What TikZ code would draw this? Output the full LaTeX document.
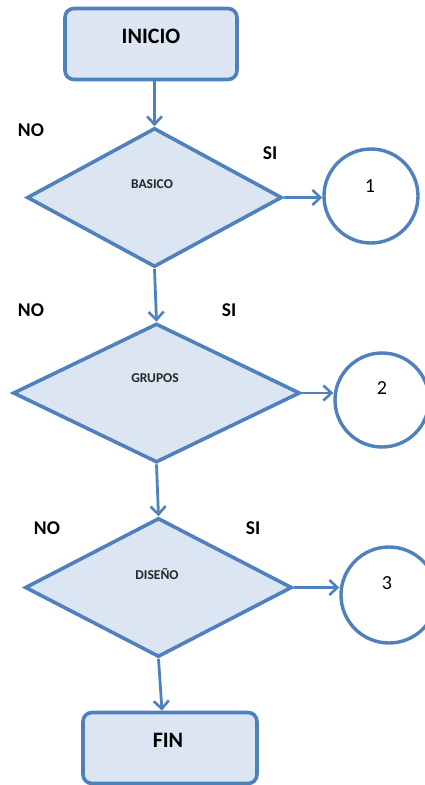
\documentclass[tikz,border=0pt]{standalone}
\usepackage{fontspec}
\setmainfont{Carlito}
\usetikzlibrary{shapes.geometric,arrows.meta,calc}
\definecolor{edgeblue}{HTML}{4F81BD}
\definecolor{fillblue}{HTML}{DCE6F2}
\begin{document}
\begin{tikzpicture}[x=1pt,y=-1pt,
  termbox/.style={draw=edgeblue,fill=fillblue,line width=3.6pt,rounded corners=9pt,
    minimum width=#1,minimum height=71pt,inner sep=0pt},
  decbox/.style={diamond,draw=edgeblue,fill=fillblue,line width=3.6pt,inner sep=0pt,
    aspect=1.9},
  conn/.style={circle,draw=edgeblue,fill=white,line width=3.4pt,minimum size=94pt,inner sep=0pt},
  flow/.style={draw=edgeblue,line width=2.8pt,-{Straight Barb[length=8pt,width=15pt,line width=2.6pt]}},
  bigtxt/.style={font=\bfseries\fontsize{22}{22}\selectfont,inner sep=0pt},
  smalltxt/.style={font=\bfseries\fontsize{13.5}{14}\selectfont,inner sep=0pt,text=black!85},
  anstxt/.style={font=\bfseries\fontsize{19.5}{19.5}\selectfont,inner sep=0pt},
  numtxt/.style={font=\fontsize{20}{20}\selectfont,inner sep=0pt}]
\useasboundingbox (0,0) rectangle (425,785);

% start and end boxes
\node[termbox=172pt] (start) at (151,44) {};
\node[bigtxt] (startlbl) at (151,36) {INICIO};
\node[termbox=174pt] (fin) at (170,748) {};
\node[bigtxt] (finlbl) at (168,740) {FIN};

% decisions
\node[decbox,minimum width=255pt,minimum height=139pt] (d1) at (154.5,197.5) {};
\node[smalltxt] (d1lbl) at (152,184) {BASICO};
\node[decbox,minimum width=287pt,minimum height=139pt] (d2) at (156.5,393) {};
\node[smalltxt] (d2lbl) at (155,378) {GRUPOS};
\node[decbox,minimum width=267pt,minimum height=139pt] (d3) at (158.5,587.5) {};
\node[smalltxt] (d3lbl) at (157,574) {DISEÑO};

% connectors
\node[conn] (c1) at (371,196) {};
\node[numtxt] (c1lbl) at (370,186) {1};
\node[conn] (c2) at (382,400) {};
\node[numtxt] (c2lbl) at (382,388) {2};
\node[conn,minimum size=96pt] (c3) at (389,595) {};
\node[numtxt] (c3lbl) at (387,583) {3};

% answer labels
\node[anstxt] (no1) at (31,130) {NO};
\node[anstxt] (si1) at (270,153) {SI};
\node[anstxt] (no2) at (31,310) {NO};
\node[anstxt] (si2) at (229,310) {SI};
\node[anstxt] (no3) at (47,528) {NO};
\node[anstxt] (si3) at (253,528) {SI};

% flow lines
\draw[flow] (start.south -| d1.north) -- (d1.north);
\draw[flow] (d1.south) -- (d2.north);
\draw[flow] (d2.south) -- (d3.north);
\draw[flow] (d3.south) -- ($(fin.north)+(-8,0)$);
\draw[flow] (d1.east) -- (d1.east -| c1.west);
\draw[flow] (d2.east) -- (d2.east -| c2.west);
\draw[flow] (d3.east) -- (d3.east -| c3.west);
\end{tikzpicture}
\end{document}
